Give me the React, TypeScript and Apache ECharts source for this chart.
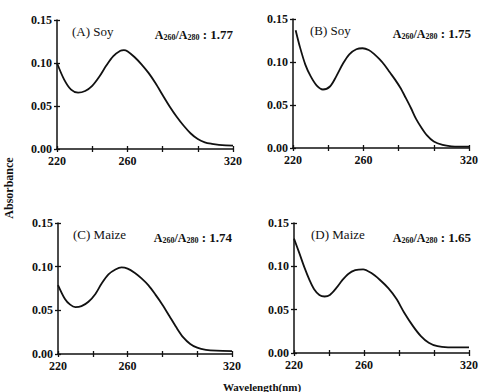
import React, { useEffect, useRef } from "react";
import * as echarts from "echarts";

const xTicksLabeled = [220, 260, 320];
const yTickLabels = ["0.00", "0.05", "0.10", "0.15"];

const panelNames = ["(A) Soy", "(B) Soy", "(C) Maize", "(D) Maize"];
const ratioValues = ["1.77", "1.75", "1.74", "1.65"];

const wlA = [220, 224, 228, 232, 236, 240, 244, 248, 252, 256, 258, 260, 264, 268, 272, 276, 280, 284, 288, 292, 296, 300, 304, 308, 312, 316, 320];
const absA = [0.1, 0.081, 0.069, 0.0655, 0.0675, 0.0735, 0.084, 0.097, 0.108, 0.1143, 0.115, 0.1138, 0.107, 0.0985, 0.0885, 0.0765, 0.0628, 0.0495, 0.0375, 0.027, 0.018, 0.0115, 0.0078, 0.006, 0.0048, 0.0042, 0.004];

const wlB = [221.5, 224, 227, 230, 233.5, 237, 241, 244.5, 248.5, 252, 256, 259.5, 263, 266, 269, 272, 275, 278, 281, 284, 287, 290, 293, 296, 300, 305, 310, 315, 320];
const absB = [0.137, 0.117, 0.097, 0.0835, 0.0725, 0.068, 0.0715, 0.083, 0.0985, 0.109, 0.1148, 0.116, 0.114, 0.1095, 0.1035, 0.0965, 0.088, 0.0795, 0.07, 0.0585, 0.0465, 0.0335, 0.0235, 0.015, 0.0075, 0.0035, 0.0018, 0.0015, 0.0015];

const wlC = [220, 224, 227, 230, 233.5, 237.5, 241.5, 245, 249, 253, 256.5, 260, 264, 268, 272, 276, 280, 284, 288, 292, 296, 300, 305, 311, 320];
const absC = [0.079, 0.063, 0.0565, 0.0537, 0.0548, 0.0598, 0.0688, 0.0805, 0.0912, 0.0968, 0.0992, 0.0978, 0.093, 0.0865, 0.0785, 0.068, 0.0565, 0.0435, 0.0305, 0.019, 0.0115, 0.0072, 0.0048, 0.0038, 0.0034];

const wlD = [220, 223, 226, 229, 231.5, 234.5, 237.5, 240.5, 244, 247.5, 251, 255, 259.5, 264, 269, 274, 278.5, 283, 288, 292.5, 297, 302, 308, 314, 320];
const absD = [0.132, 0.1155, 0.0985, 0.0835, 0.0735, 0.0668, 0.0652, 0.067, 0.0745, 0.0838, 0.0912, 0.0955, 0.0966, 0.0925, 0.0845, 0.0745, 0.0625, 0.0465, 0.031, 0.0195, 0.0118, 0.0078, 0.0066, 0.0065, 0.0065];

const seriesWl = [wlA, wlB, wlC, wlD];
const seriesAbs = [absA, absB, absC, absD];

const grids = [
  { left: 57, top: 20, width: 176, height: 129 },
  { left: 293, top: 19, width: 178, height: 129 },
  { left: 58, top: 223, width: 174, height: 131 },
  { left: 294, top: 223, width: 177, height: 130 },
];

const FONT = "'Liberation Serif', 'DejaVu Serif', serif";

export default function App() {
  const ref = useRef<HTMLDivElement>(null);
  useEffect(() => {
    if (!ref.current) return;
    const chart = echarts.init(ref.current, undefined, { renderer: "svg" });
    const xAxes: any[] = [];
    const yAxes: any[] = [];
    const series: any[] = [];
    const titles: any[] = [];
    grids.forEach((g, i) => {
      const xBase = {
        type: "value",
        gridIndex: i,
        min: 220,
        max: 320,
        interval: 20,
        position: "bottom",
        splitLine: { show: false },
      };
      xAxes.push({
        ...xBase,
        axisLine: { show: true, lineStyle: { color: "#111", width: 1.5 } },
        axisTick: { show: true, inside: false, length: 3, lineStyle: { color: "#111", width: 1.3 } },
        axisLabel: {
          show: true,
          margin: 6,
          color: "#111",
          fontFamily: FONT,
          fontWeight: "bold",
          fontSize: 12,
          formatter: (v: number) => (xTicksLabeled.includes(Math.round(v)) ? String(Math.round(v)) : ""),
        },
      });
      xAxes.push({
        ...xBase,
        axisLine: { show: false },
        axisTick: { show: true, inside: true, length: 3, lineStyle: { color: "#111", width: 1.3 } },
        axisLabel: { show: false },
      });
      const yBase = {
        type: "value",
        gridIndex: i,
        min: 0,
        max: 0.15,
        interval: 0.05,
        position: "left",
        splitLine: { show: false },
      };
      yAxes.push({
        ...yBase,
        axisLine: { show: true, lineStyle: { color: "#111", width: 1.5 } },
        axisTick: { show: true, inside: false, length: 3, lineStyle: { color: "#111", width: 1.3 } },
        axisLabel: {
          show: true,
          margin: 5,
          color: "#111",
          fontFamily: FONT,
          fontWeight: "bold",
          fontSize: 12,
          formatter: (v: number) => yTickLabels[Math.round(v / 0.05)] ?? "",
        },
      });
      yAxes.push({
        ...yBase,
        axisLine: { show: false },
        axisTick: { show: true, inside: true, length: 3, lineStyle: { color: "#111", width: 1.3 } },
        axisLabel: { show: false },
      });
      series.push({
        type: "line",
        xAxisIndex: i * 2,
        yAxisIndex: i * 2,
        data: seriesWl[i].map((w, k) => [w, seriesAbs[i][k]]),
        smooth: 0.3,
        showSymbol: false,
        symbol: "none",
        lineStyle: { color: "#111", width: 1.8 },
      });
      titles.push({
        text: panelNames[i],
        left: g.left + (i % 2 === 0 ? 15 : 17),
        top: g.top + 5,
        padding: 0,
        textStyle: { fontFamily: FONT, fontSize: 13, fontWeight: "normal", color: "#111" },
      });
      titles.push({
        text: `{a|A}{s|260}{a|/A}{s|280}{b| : ${ratioValues[i]}}`,
        right: 481 - (g.left + g.width),
        top: g.top + 6,
        padding: 0,
        textStyle: {
          fontFamily: FONT,
          color: "#111",
          rich: {
            a: { fontFamily: FONT, fontSize: 12, color: "#111", verticalAlign: "bottom", lineHeight: 15 },
            s: { fontFamily: FONT, fontSize: 8, color: "#111", verticalAlign: "bottom", lineHeight: 13 },
            b: { fontFamily: FONT, fontSize: 13, fontWeight: "bold", color: "#111", verticalAlign: "bottom", lineHeight: 15 },
          },
        },
      });
    });
    chart.setOption({
      animation: false,
      backgroundColor: "#fff",
      grid: grids.map((g) => ({ ...g, containLabel: false })),
      xAxis: xAxes,
      yAxis: yAxes,
      series,
      title: titles,
      graphic: [
        {
          type: "text",
          x: 262,
          y: 387,
          style: {
            text: "Wavelength(nm)",
            fontFamily: FONT,
            fontSize: 11,
            fontWeight: "bold",
            fill: "#111",
            align: "center",
            verticalAlign: "middle",
          },
        },
        {
          type: "text",
          x: 9,
          y: 188,
          rotation: Math.PI / 2,
          style: {
            text: "Absorbance",
            fontFamily: FONT,
            fontSize: 12,
            fontWeight: "bold",
            fill: "#111",
            align: "center",
            verticalAlign: "middle",
          },
        },
      ],
    });
    return () => chart.dispose();
  }, []);
  return (
    <div
      ref={ref}
      style={{ position: "absolute", left: 0, top: 0, width: 481, height: 392 }}
    />
  );
}
